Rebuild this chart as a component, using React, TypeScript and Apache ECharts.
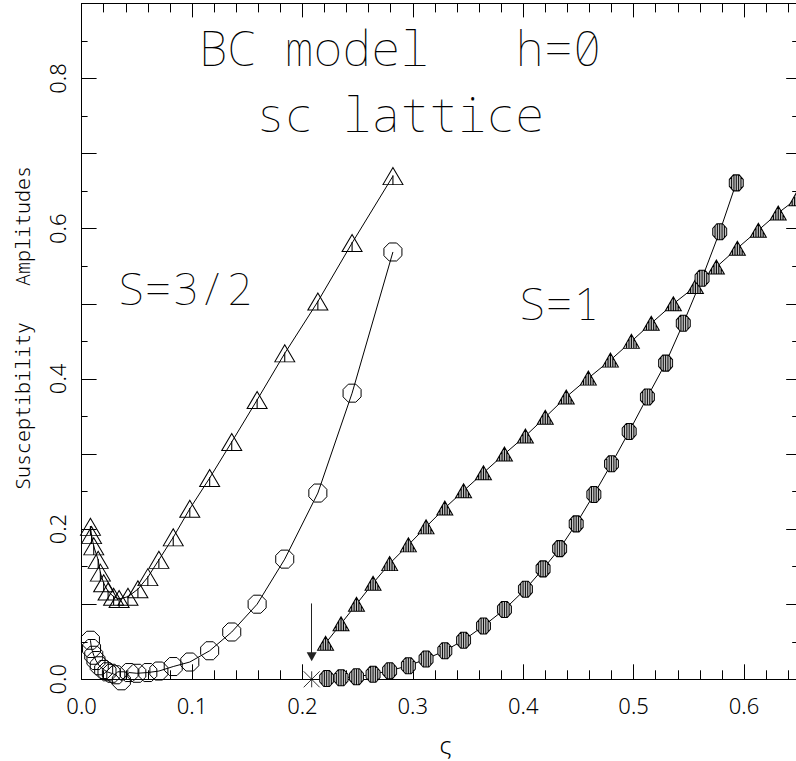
import React, { useEffect, useRef } from "react";
import * as echarts from "echarts";

// S = 3/2, open triangles
const s32TriSigma = [0.008, 0.009, 0.011, 0.015, 0.017, 0.020, 0.024, 0.029, 0.034, 0.042, 0.051, 0.060, 0.070, 0.083, 0.098, 0.116, 0.136, 0.159, 0.184, 0.214, 0.245, 0.282];
const s32TriValue = [0.203, 0.192, 0.177, 0.159, 0.142, 0.128, 0.117, 0.110, 0.107, 0.110, 0.120, 0.136, 0.159, 0.189, 0.227, 0.268, 0.316, 0.372, 0.434, 0.503, 0.581, 0.670];
// S = 3/2, open circles
const s32CircSigma = [0.008, 0.009, 0.011, 0.013, 0.016, 0.020, 0.023, 0.027, 0.031, 0.036, 0.043, 0.050, 0.060, 0.070, 0.083, 0.098, 0.116, 0.136, 0.159, 0.184, 0.214, 0.245, 0.282];
const s32CircValue = [0.052, 0.041, 0.032, 0.025, 0.018, 0.013, 0.010, 0.008, 0.006, -0.002, 0.009, 0.008, 0.009, 0.011, 0.017, 0.023, 0.038, 0.063, 0.100, 0.160, 0.248, 0.381, 0.569];
// S = 1, hatched triangles
const s1TriSigma = [0.221, 0.235, 0.249, 0.264, 0.279, 0.296, 0.312, 0.329, 0.346, 0.364, 0.383, 0.402, 0.420, 0.439, 0.459, 0.479, 0.498, 0.516, 0.536, 0.556, 0.575, 0.594, 0.613, 0.631, 0.648];
const s1TriValue = [0.048, 0.074, 0.100, 0.128, 0.154, 0.179, 0.203, 0.228, 0.251, 0.275, 0.300, 0.324, 0.349, 0.376, 0.401, 0.425, 0.450, 0.474, 0.500, 0.523, 0.549, 0.574, 0.598, 0.621, 0.640];
// S = 1, hatched circles
const s1CircSigma = [0.222, 0.235, 0.249, 0.264, 0.279, 0.296, 0.312, 0.329, 0.346, 0.364, 0.383, 0.402, 0.418, 0.433, 0.448, 0.464, 0.480, 0.496, 0.5125, 0.529, 0.545, 0.562, 0.578, 0.593];
const s1CircValue = [0.001, 0.002, 0.0035, 0.0067, 0.0115, 0.018, 0.027, 0.038, 0.052, 0.071, 0.093, 0.120, 0.147, 0.174, 0.207, 0.246, 0.287, 0.330, 0.376, 0.421, 0.474, 0.534, 0.596, 0.661];

// critical point marker and arrow
const criticalSigma = 0.2084;
const criticalValue = 0.0;
const arrowFrom = 0.101;
const arrowTo = 0.030;

const xTickLabels = ["0.0", "0.1", "0.2", "0.3", "0.4", "0.5", "0.6"];
const yTickLabels = ["0.0", "0.2", "0.4", "0.6", "0.8"];

const OPEN_TRI = "path://M0,20L10,0L20,20ZM10,9L10,20";
const OCT = "M5.86,0L14.14,0L20,5.86L20,14.14L14.14,20L5.86,20L0,14.14L0,5.86Z";
const OPEN_OCT = "path://" + OCT;
const HATCH_OCT = "path://" + OCT + "M3.33,2.53L3.33,17.47M6.67,0L6.67,20M10,0L10,20M13.33,0L13.33,20M16.67,2.53L16.67,17.47";
const HATCH_TRI = "path://M0,20L10,0L20,20ZM4,12L4,20M7,6L7,20M10,0L10,20M13,6L13,20M16,12L16,20";
const ASTER = "path://M0,0L16,16M16,0L0,16M8,0L8,16";

const MONO = "'Noto Sans Mono', 'DejaVu Sans Mono', monospace";
const DIGITS = "'Noto Sans', Roboto, sans-serif";

function pairs(xs: number[], ys: number[]) {
  return xs.map((x, i) => [x, ys[i]]);
}

export default function App() {
  const ref = useRef<HTMLDivElement>(null);
  useEffect(() => {
    if (!ref.current) return;
    const chart = echarts.init(ref.current, null, { renderer: "svg" });
    const xFmt = (v: number) => {
      const k = Math.round(v * 10);
      if (Math.abs(v * 10 - k) > 1e-6) return "";
      return xTickLabels[k] ?? "";
    };
    const yFmt = (v: number) => {
      const k = Math.round(v * 10);
      if (Math.abs(v * 10 - k) > 1e-6 || k % 2 !== 0) return "";
      return yTickLabels[k / 2] ?? "";
    };
    const labelStyle = { fontFamily: DIGITS, fontWeight: 300, fontSize: 22, color: "#000" };
    const baseX = {
      type: "value",
      min: 0,
      max: 0.65,
      splitLine: { show: false },
      axisLine: { show: true, onZero: false, lineStyle: { color: "#000", width: 1 } },
    };
    const baseY = {
      type: "value",
      min: 0,
      max: 0.9,
      interval: 0.1,
      splitLine: { show: false },
      axisLine: { show: true, onZero: false, lineStyle: { color: "#000", width: 1 } },
    };
    const common = {
      type: "line",
      xAxisIndex: 0,
      yAxisIndex: 0,
      clip: false,
      lineStyle: { color: "#000", width: 1 },
      emphasis: { disabled: true },
    };
    const bigText = (text: string, x: number, y: number, size: number) => ({
      type: "text",
      x,
      y,
      style: { text, fontFamily: MONO, fontWeight: 100, fontSize: size, fill: "#000", align: "center", verticalAlign: "middle" },
    });
    chart.setOption({
      animation: false,
      backgroundColor: "#fff",
      grid: {
        left: 81.6,
        top: 3.4,
        width: 717.6,
        height: 675.9,
        containLabel: false,
        outerBoundsMode: "none",
      },
      xAxis: [
        {
          ...baseX,
          position: "bottom",
          interval: 0.1,
          axisTick: { show: true, inside: true, length: 15, lineStyle: { color: "#000" } },
          axisLabel: { show: true, margin: 15, formatter: xFmt, showMaxLabel: false, ...labelStyle },
        },
        {
          ...baseX,
          position: "top",
          interval: 0.1,
          axisTick: { show: true, inside: true, length: 14, lineStyle: { color: "#000" } },
          axisLabel: { show: false },
        },
        {
          ...baseX,
          position: "bottom",
          interval: 0.02,
          axisLine: { show: false, onZero: false },
          axisTick: { show: true, inside: true, length: 9, lineStyle: { color: "#000" } },
          axisLabel: { show: false },
        },
        {
          ...baseX,
          position: "top",
          interval: 0.02,
          axisLine: { show: false, onZero: false },
          axisTick: { show: true, inside: true, length: 9, lineStyle: { color: "#000" } },
          axisLabel: { show: false },
        },
      ],
      yAxis: [
        {
          ...baseY,
          position: "left",
          axisTick: { show: true, inside: true, length: 15, lineStyle: { color: "#000" } },
          minorTick: { show: true, splitNumber: 2, length: 6, lineStyle: { color: "#000" } },
          axisLabel: { show: true, rotate: 90, margin: 14, formatter: yFmt, ...labelStyle },
        },
        {
          ...baseY,
          position: "right",
          axisTick: { show: true, inside: true, length: 13, lineStyle: { color: "#000" } },
          minorTick: { show: true, splitNumber: 2, length: 7, lineStyle: { color: "#000" } },
          axisLabel: { show: false },
        },
      ],
      graphic: [
        bigText("BC model   h=0", 400, 47.5, 48),
        bigText("sc lattice", 400, 113.5, 48),
        bigText("S=3/2", 185, 287, 45),
        bigText("S=1", 559, 302, 45),
        {
          type: "text",
          x: 22,
          y: 328,
          rotation: Math.PI / 2,
          style: { text: "Susceptibility   Amplitudes", fontFamily: MONO, fontWeight: 300, fontSize: 20, fill: "#000", align: "center", verticalAlign: "middle" },
        },
        {
          type: "text",
          x: 446,
          y: 744,
          style: { text: "ς", fontFamily: MONO, fontWeight: 300, fontSize: 24, fill: "#000", align: "center", verticalAlign: "middle" },
        },
      ],
      series: [
        {
          ...common,
          name: "S=3/2 triangles",
          data: pairs(s32TriSigma, s32TriValue),
          symbol: OPEN_TRI,
          symbolSize: [20, 17],
          itemStyle: { color: "rgba(255,255,255,0)", borderColor: "#000", borderWidth: 1 },
        },
        {
          ...common,
          name: "S=3/2 circles",
          data: pairs(s32CircSigma, s32CircValue),
          symbol: OPEN_OCT,
          symbolSize: [18, 18],
          itemStyle: { color: "rgba(255,255,255,0)", borderColor: "#000", borderWidth: 1 },
        },
        {
          ...common,
          name: "S=1 triangles",
          data: pairs(s1TriSigma, s1TriValue),
          symbol: HATCH_TRI,
          symbolSize: [16, 14],
          itemStyle: { color: "#c4c4c4", borderColor: "#000", borderWidth: 1 },
        },
        {
          ...common,
          name: "S=1 circles",
          data: pairs(s1CircSigma, s1CircValue),
          symbol: HATCH_OCT,
          symbolSize: [14, 16],
          itemStyle: { color: "#c4c4c4", borderColor: "#000", borderWidth: 1 },
        },
        {
          type: "scatter",
          name: "critical",
          xAxisIndex: 0,
          yAxisIndex: 0,
          clip: false,
          data: [[criticalSigma, criticalValue]],
          symbol: ASTER,
          symbolSize: 16,
          itemStyle: { color: "rgba(255,255,255,0)", borderColor: "#000", borderWidth: 1 },
          emphasis: { disabled: true },
          markLine: {
            silent: true,
            symbol: ["none", "triangle"],
            symbolSize: [10, 9],
            label: { show: false },
            lineStyle: { color: "#222", width: 1, type: "solid" },
            data: [[{ coord: [criticalSigma, arrowFrom] }, { coord: [criticalSigma, arrowTo] }]],
          },
        },
      ],
    });
    return () => chart.dispose();
  }, []);
  return (
    <div
      ref={ref}
      style={{ position: "fixed", left: 0, top: 0, width: 796, height: 761, background: "#fff" }}
    />
  );
}
